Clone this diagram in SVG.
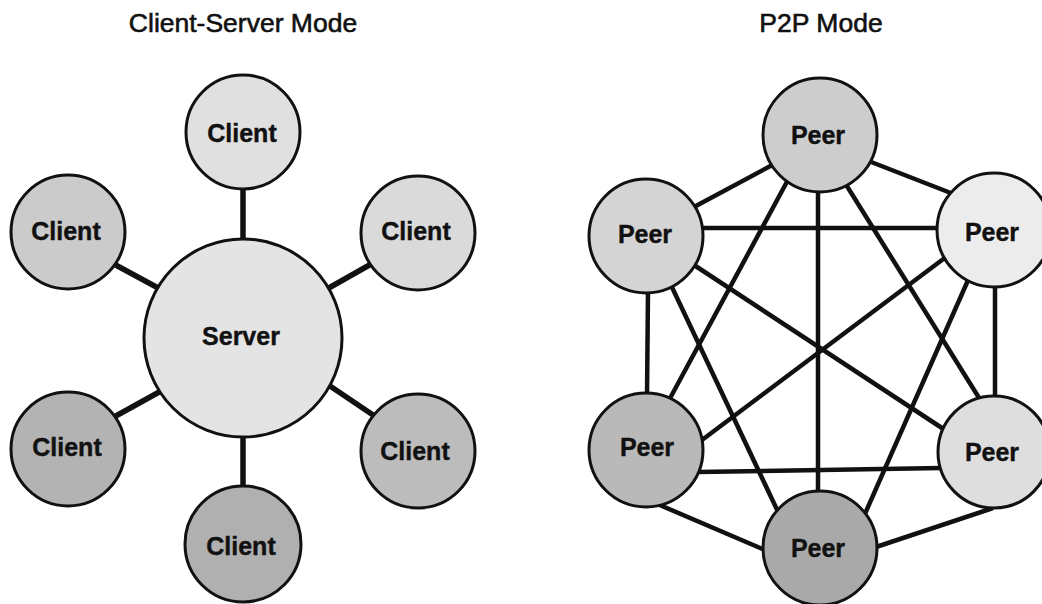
<svg xmlns="http://www.w3.org/2000/svg" width="1042" height="604" viewBox="0 0 1042 604">
  <style>
    .title { font-family: "Liberation Sans", Arial, sans-serif; font-size: 26.5px; fill: #111; stroke: #111; stroke-width: 0.6; text-anchor: middle; }
    .lbl { font-family: "Liberation Sans", Arial, sans-serif; font-size: 25px; font-weight: bold; fill: #111; stroke: #111; stroke-width: 0.4; text-anchor: middle; }
    .node { stroke: #111; stroke-width: 3; }
    .cs { stroke: #111; stroke-width: 5.5; stroke-linecap: butt; fill: none; }
    .p2p { stroke: #111; stroke-width: 4.5; stroke-linecap: butt; fill: none; }
  </style>
  <rect x="0" y="0" width="1042" height="604" fill="#ffffff"/>

  <text class="title" x="243" y="32">Client-Server Mode</text>
  <text class="title" x="821" y="32">P2P Mode</text>

  <g id="connectors">
    <!-- Client-Server -->
    <line class="cs" x1="243" y1="188" x2="243" y2="240"/>
    <line class="cs" x1="112" y1="263" x2="160" y2="289"/>
    <line class="cs" x1="373" y1="263" x2="327" y2="289"/>
    <line class="cs" x1="114" y1="417" x2="161" y2="391"/>
    <line class="cs" x1="330" y1="386" x2="376" y2="417"/>
    <line class="cs" x1="243" y1="436" x2="243" y2="488"/>
    <!-- P2P (complete graph) -->
    <line class="p2p" x1="776" y1="163" x2="694" y2="207"/>
    <line class="p2p" x1="866" y1="160" x2="956" y2="195"/>
    <line class="p2p" x1="818" y1="188" x2="818" y2="496"/>
    <line class="p2p" x1="789" y1="178" x2="668" y2="402"/>
    <line class="p2p" x1="845" y1="183" x2="981" y2="401"/>
    <line class="p2p" x1="700" y1="228" x2="941" y2="228"/>
    <line class="p2p" x1="648" y1="290" x2="647" y2="396"/>
    <line class="p2p" x1="694" y1="265" x2="945" y2="430"/>
    <line class="p2p" x1="670" y1="283" x2="780" y2="516"/>
    <line class="p2p" x1="946" y1="257" x2="698" y2="443"/>
    <line class="p2p" x1="995" y1="284" x2="995" y2="400"/>
    <line class="p2p" x1="969" y1="278" x2="864" y2="516"/>
    <line class="p2p" x1="697" y1="472" x2="941" y2="468"/>
    <line class="p2p" x1="655" y1="503" x2="765" y2="550"/>
    <line class="p2p" x1="993" y1="508" x2="873" y2="548"/>
  </g>

  <!-- Client-Server nodes -->
  <g id="server">
    <circle class="node" cx="243" cy="338" r="99" fill="#e4e4e4"/>
    <text class="lbl" x="241" y="345">Server</text>
  </g>
  <g id="client-top">
    <circle class="node" cx="243" cy="132" r="57" fill="#e0e0e0"/>
    <text class="lbl" x="242" y="142">Client</text>
  </g>
  <g id="client-upper-left">
    <circle class="node" cx="68" cy="232" r="57" fill="#cbcbcb"/>
    <text class="lbl" x="66" y="240">Client</text>
  </g>
  <g id="client-upper-right">
    <circle class="node" cx="418" cy="233" r="57" fill="#dadada"/>
    <text class="lbl" x="416" y="240">Client</text>
  </g>
  <g id="client-lower-left">
    <circle class="node" cx="68" cy="449" r="57" fill="#b3b3b3"/>
    <text class="lbl" x="67" y="456">Client</text>
  </g>
  <g id="client-lower-right">
    <circle class="node" cx="418" cy="451" r="57" fill="#bcbcbc"/>
    <text class="lbl" x="415" y="460">Client</text>
  </g>
  <g id="client-bottom">
    <circle class="node" cx="243" cy="544" r="58" fill="#b0b0b0"/>
    <text class="lbl" x="241" y="555">Client</text>
  </g>

  <!-- P2P nodes -->
  <g id="peer-top">
    <circle class="node" cx="820" cy="135" r="57" fill="#cdcdcd"/>
    <text class="lbl" x="818" y="144">Peer</text>
  </g>
  <g id="peer-upper-left">
    <circle class="node" cx="646" cy="236" r="57" fill="#d4d4d4"/>
    <text class="lbl" x="645" y="243">Peer</text>
  </g>
  <g id="peer-upper-right">
    <circle class="node" cx="994" cy="230" r="57" fill="#ececec"/>
    <text class="lbl" x="992" y="241">Peer</text>
  </g>
  <g id="peer-lower-left">
    <circle class="node" cx="646" cy="450" r="57" fill="#b9b9b9"/>
    <text class="lbl" x="647" y="456">Peer</text>
  </g>
  <g id="peer-lower-right">
    <circle class="node" cx="994" cy="452" r="56" fill="#dedede"/>
    <text class="lbl" x="992" y="461">Peer</text>
  </g>
  <g id="peer-bottom">
    <circle class="node" cx="820" cy="548" r="57" fill="#a9a9a9"/>
    <text class="lbl" x="818" y="557">Peer</text>
  </g>
</svg>
